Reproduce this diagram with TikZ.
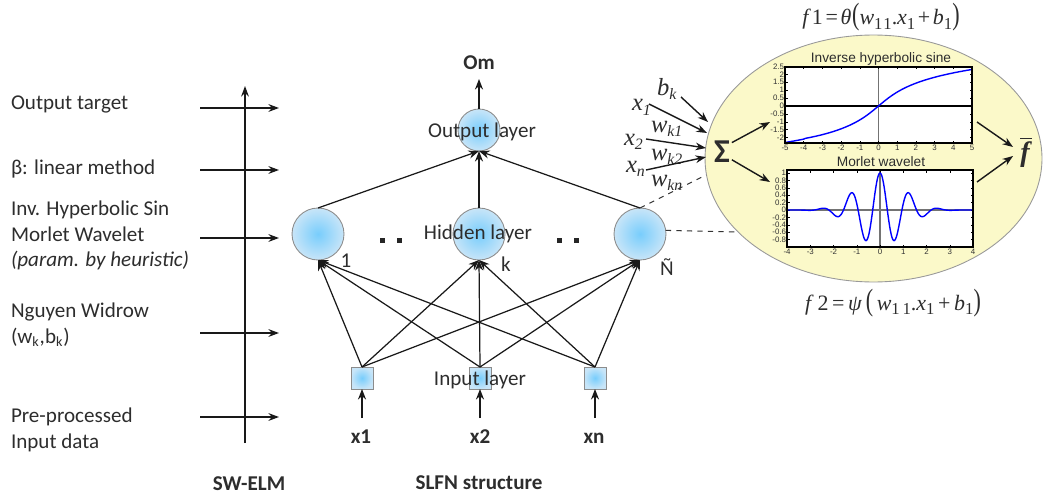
\documentclass[tikz,border=0pt]{standalone}
\usepackage{fontspec}
\setmainfont{Carlito}
\newfontfamily\tnr{Liberation Serif}
\newfontfamily\arial{Liberation Sans}
\usetikzlibrary{arrows.meta,shapes.geometric}
\definecolor{nin}{RGB}{120,205,252}
\definecolor{nout}{RGB}{200,229,248}
\definecolor{ellfill}{RGB}{251,249,201}
\definecolor{txt}{RGB}{45,45,45}
\newcommand\tsb[1]{\raisebox{-0.45ex}{\fontsize{9.5}{10}\selectfont #1}}
\newcommand\isb[2]{\textit{#1}\raisebox{-0.4ex}{\fontsize{9}{10}\selectfont\textit{#2}}}
\begin{document}
\begin{tikzpicture}[x=0.02cm,y=-0.02cm,
  every node/.style={inner sep=0pt,outer sep=0pt,text=txt},
  arr/.style={-{Stealth[length=6pt,width=4.4pt]},line width=0.8pt,draw=black!90},
  conn/.style={-{Stealth[length=6pt,width=4.6pt]},line width=0.7pt,draw=black!90},
  neuron/.style={circle,draw=black!45,line width=0.5pt,inner color=nin,outer color=nout,minimum size=1.04cm},
  inbox/.style={rectangle,draw=black!45,line width=0.5pt,inner color=nin,outer color=nout,minimum size=0.44cm},
  lbl/.style={anchor=base west,font=\fontsize{12}{14}\selectfont},
  clbl/.style={anchor=base,font=\fontsize{12}{14}\selectfont},
  blbl/.style={anchor=base,font=\fontsize{12}{14}\selectfont\bfseries},
  dotsq/.style={rectangle,fill=black!85,minimum size=0.1cm},
  tick/.style={font=\arial\fontsize{4.5}{5}\selectfont,text=black!80},
  ptitle/.style={anchor=base,font=\arial\fontsize{7.8}{9}\selectfont},
  tms/.style={anchor=base west,font=\tnr\fontsize{14}{16}\selectfont\itshape},
  frm/.style={line width=0.9pt,draw=black,fill=white}
]
\useasboundingbox (0,0) rectangle (1043,500);

% ---------------- left column ----------------
\node[lbl] (t1) at (11,110) {Output target};
\node[lbl] (t2) at (11,174) {β: linear method};
\node[lbl] (t3a) at (11,215) {Inv. Hyperbolic Sin};
\node[lbl] (t3b) at (11,241) {Morlet Wavelet};
\node[lbl] (t3c) at (11,266) {\itshape (param. by heuristic)};
\node[lbl] (t4a) at (11,317) {Nguyen Widrow};
\node[lbl] (t4b) at (11,343) {(w\textsubscript{k},b\textsubscript{k})};
\node[lbl] (t5a) at (11,422) {Pre-processed};
\node[lbl] (t5b) at (11,448) {Input data};
\node[blbl] (swelm) at (249,490) {SW-ELM};

\coordinate (axb) at (245,443);
\coordinate (axt) at (245,86);
\draw[arr] (axb) -- (axt);
\foreach \yy [count=\i] in {108,170,238,333,417}{
  \coordinate (hs\i) at (200,\yy);
  \coordinate (he\i) at (279,\yy);
  \draw[arr] (hs\i) -- (he\i);
}

% ---------------- network ----------------
\node[neuron,minimum size=0.84cm] (out) at (479,130) {};
\node[neuron] (h1) at (318,234) {};
\node[neuron] (hk) at (479,234) {};
\node[neuron] (hn) at (640,234) {};
\node[inbox] (in1) at (362,378) {};
\node[inbox] (in2) at (480,378) {};
\node[inbox] (inn) at (595,378) {};

\foreach \i in {in1,in2,inn}{
  \foreach \h in {h1,hk,hn}{
    \draw[conn] (\i.north) -- (\h.south);
  }
}
\foreach \h in {h1,hk,hn}{
  \draw[conn] (\h.north) -- (out.south);
}

\node[blbl] (om) at (479,70) {Om};
\coordinate (omtip) at (479,79);
\draw[conn] (out.north) -- (omtip);

\node[clbl] (outlbl) at (482,137) {Output layer};
\node[clbl] (hidlbl) at (478,239) {Hidden layer};
\node[clbl] (inlbl) at (480,385) {Input layer};

\node[clbl,anchor=base] (n1) at (346,267) {1};
\node[clbl,anchor=base] (nk) at (506,271) {k};
\node[clbl,anchor=base] (nn) at (667,275) {Ñ};

\node[dotsq] (d1) at (382,240) {};
\node[dotsq] (d2) at (399,240) {};
\node[dotsq] (d3) at (559,240) {};
\node[dotsq] (d4) at (576,240) {};

\node[blbl] (x1) at (361,443) {x1};
\node[blbl] (x2) at (480,443) {x2};
\node[blbl] (xn) at (594,443) {xn};
\coordinate (x1a) at (362,418);
\coordinate (x2a) at (480,418);
\coordinate (xna) at (595,418);
\draw[conn] (x1a) -- (in1.south);
\draw[conn] (x2a) -- (in2.south);
\draw[conn] (xna) -- (inn.south);

\node[blbl] (slfn) at (479,489) {SLFN structure};

% ---------------- zoomed neuron ----------------
\node[ellipse,draw=black!40,line width=0.5pt,fill=ellfill,minimum width=6.74cm,minimum height=4.94cm] (ell) at (873.5,158.5) {};

\coordinate (dse) at (706,175);
\coordinate (dse2) at (737,232);
\draw[dashed,line width=0.6pt,black!80] (hn.north) -- (dse);
\draw[dashed,line width=0.6pt,black!80] (hn.8) -- (dse2);

\node[anchor=base,font=\fontsize{19}{20}\selectfont\bfseries] (sig) at (722,162) {Σ};

% inputs to sigma
\node[tms] (bk) at (657,95) {\isb{b}{k}};
\node[tms] (xx1) at (632,111) {\isb{x}{1}};
\node[tms] (wk1) at (651,132) {\isb{w}{k1}};
\node[tms] (xx2) at (624,145) {\isb{x}{2}};
\node[tms] (wk2) at (651,160) {\isb{w}{k2}};
\node[tms] (xxn) at (626,172) {\isb{x}{n}};
\node[tms] (wkn) at (651,186) {\isb{w}{kn}};
\coordinate (bks) at (681,97);
\coordinate (bke) at (708,122);
\coordinate (x1s) at (649,104);
\coordinate (x1e) at (707,133);
\coordinate (x2s) at (646,139);
\coordinate (x2e) at (706,148);
\coordinate (xns) at (646,170);
\coordinate (xne) at (706,157);
\draw[arr] (bks) -- (bke);
\draw[arr] (x1s) -- (x1e);
\draw[arr] (x2s) -- (x2e);
\draw[arr] (xns) -- (xne);

% plot 1
\node[ptitle] (p1t) at (881,63) {Inverse hyperbolic sine};
\node[frm,minimum width=3.74cm,minimum height=1.52cm] (p1) at (878.5,105) {};
\draw[black!55,line width=0.7pt] (878.5,67) -- (878.5,143);
\draw[black,line width=0.6pt] (785,106) -- (972,106);
\foreach \v [count=\i] in {2.5,2,1.5,1,0.5,0,-0.5,-1,-1.5,-2}{
  \node[tick,anchor=east] (pa\i) at (784,{106-15.8*\v}) {\v};
  \draw[line width=0.3pt] (785,{106-15.8*\v}) -- ++(2.5,0);
  \draw[line width=0.3pt] (972,{106-15.8*\v}) -- ++(-2.5,0);
}
\foreach \v [count=\i] in {-5,-4,-3,-2,-1,0,1,2,3,4,5}{
  \node[tick,anchor=north] (pb\i) at ({878.5+18.7*\v},145) {\v};
  \draw[line width=0.3pt] ({878.5+18.7*\v},143) -- ++(0,-2.5);
  \draw[line width=0.3pt] ({878.5+18.7*\v},67) -- ++(0,2.5);
}
\draw[blue,line width=0.8pt] plot[domain=-5:5,samples=120,smooth] ({878.5+18.7*\x},{106-15.8*ln(\x+sqrt((\x)^2+1))});
\draw[line width=0.9pt] (785,67) rectangle (972,143);

% plot 2
\node[ptitle] (p2t) at (881,166) {Morlet wavelet};
\node[frm,minimum width=3.72cm,minimum height=1.54cm] (p2) at (880,208.5) {};
\draw[black!55,line width=0.7pt] (880,170) -- (880,247);
\draw[black!55,line width=0.7pt] (787,210) -- (973,210);
\foreach \v [count=\i] in {1,0.8,0.6,0.4,0.2,0,-0.2,-0.4,-0.6,-0.8}{
  \node[tick,anchor=east] (pc\i) at (786,{210-37*\v}) {\v};
  \draw[line width=0.3pt] (787,{210-37*\v}) -- ++(2.5,0);
  \draw[line width=0.3pt] (973,{210-37*\v}) -- ++(-2.5,0);
}
\foreach \v [count=\i] in {-4,-3,-2,-1,0,1,2,3,4}{
  \node[tick,anchor=north] (pd\i) at ({880+23.25*\v},249) {\v};
  \draw[line width=0.3pt] ({880+23.25*\v},247) -- ++(0,-2.5);
  \draw[line width=0.3pt] ({880+23.25*\v},170) -- ++(0,2.5);
}
\draw[blue,line width=0.8pt] plot[domain=-4:4,samples=300,smooth] ({880+23.25*\x},{210-37*exp(-((\x)^2)/2)*cos(deg(5*(\x)))});
\draw[line width=0.9pt] (787,170) rectangle (973,247);

% arrows in ellipse
\coordinate (s1e) at (770,122);
\coordinate (s2e) at (770,182);
\draw[arr] (sig.40) ++(2,-2) coordinate (s1s) (s1s) -- (s1e);
\draw[arr] (sig.-40) ++(2,2) coordinate (s2s) (s2s) -- (s2e);
\node[anchor=base,font=\tnr\fontsize{16}{18}\selectfont] (fbar) at (1026,161) {$\overline{\hbox{\tnr\fontsize{16}{18}\selectfont\bfseries\itshape f\kern1pt}}$};
\coordinate (r1s) at (977,122);
\coordinate (r2s) at (977,182);
\coordinate (r1e) at (1013,147);
\coordinate (r2e) at (1013,156);
\draw[arr] (r1s) -- (r1e);
\draw[arr] (r2s) -- (r2e);

% formulas
\node[anchor=base,font=\tnr\fontsize{12.5}{14}\selectfont] (f1) at (881,25) {\textit{f}\kern0.5pt1\kern1.5pt=\kern1.5pt\textit{θ}\kern0.5pt\scalebox{1}[1.4]{(}\textit{w}\tsb{1\kern0.5pt1}.\textit{x}\tsb{1}\kern1.5pt+\kern1.5pt\textit{b}\tsb{1}\scalebox{1}[1.4]{)}};
\node[anchor=base,font=\tnr\fontsize{12.5}{14}\selectfont] (f2) at (893,310) {\textit{f}\,2\,=\,\textit{ψ}\,\scalebox{1}[1.4]{(}\,\textit{w}\tsb{1\,1}.\textit{x}\tsb{1}\,+\,\textit{b}\tsb{1}\scalebox{1}[1.4]{)}};
\end{tikzpicture}
\end{document}
